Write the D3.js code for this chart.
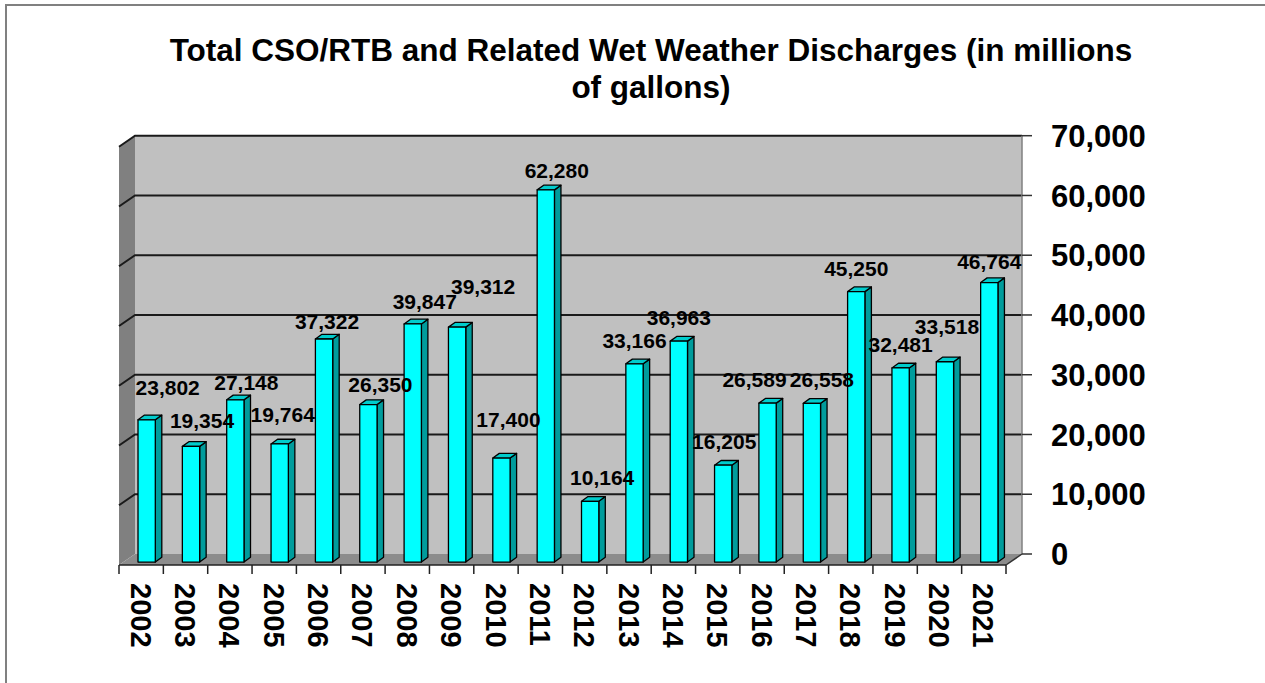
<!DOCTYPE html>
<html>
<head>
<meta charset="utf-8">
<script src="https://cdn.jsdelivr.net/npm/d3@7"></script>
<style>
  body { margin: 0; background: #fff; }
  text { font-family: Arial, "Liberation Sans", sans-serif; font-weight: bold; fill: #000; }
</style>
</head>
<body>
<svg id="chart" width="1265" height="683"></svg>
<script>
// data
const years = ["2002", "2003", "2004", "2005", "2006", "2007", "2008", "2009", "2010", "2011",
  "2012", "2013", "2014", "2015", "2016", "2017", "2018", "2019", "2020", "2021"];
const discharges = [23802, 19354, 27148, 19764, 37322, 26350, 39847, 39312, 17400, 62280,
  10164, 33166, 36963, 16205, 26589, 26558, 45250, 32481, 33518, 46764];
const yTicks = [0, 10000, 20000, 30000, 40000, 50000, 60000, 70000];
const titleLines = ["Total CSO/RTB and Related Wet Weather Discharges (in millions", "of gallons)"];

// label nudges (layout only) -- the original labels sit a bit off their bars
const labelNudge = [[21, -9], [11, -2], [11, 6], [3, -6], [3, 6], [12, 3], [12, 1], [26, -17], [7, -15], [11, 4],
  [12, 0], [0, 0], [0, 0], [1, 0], [-13, 0], [10, 0], [0, 0], [0, 0], [2, -12], [0, 2]];

const svg = d3.select("#chart");
const fmt = d3.format(",");

// depth offset from front plane to back wall
const DX = 16, DY = -11;
const x = d3.scaleBand().domain(years).range([119, 1006]).padding(0);
const yBack = d3.scaleLinear().domain([0, 70000]).range([554, 135.7]);
const backL = 119 + DX, backR = 1006 + DX;

// page frame
svg.append("path")
  .attr("d", "M6,683 L6,5 L1265,5")
  .attr("fill", "none").attr("stroke", "#808080").attr("stroke-width", 2);

// title
svg.append("g").selectAll("text")
  .data(titleLines)
  .join("text")
  .attr("x", 651)
  .attr("y", (d, i) => 61 + i * 37)
  .attr("text-anchor", "middle")
  .attr("font-size", 31.5)
  .text(d => d);

// walls
svg.append("rect")
  .attr("x", backL).attr("y", yBack(70000))
  .attr("width", backR - backL).attr("height", yBack(0) - yBack(70000))
  .attr("fill", "#c0c0c0");

svg.append("path")
  .attr("d", `M119,${yBack(70000) - DY} L${backL},${yBack(70000)} L${backL},${yBack(0)} L119,${yBack(0) - DY} Z`)
  .attr("fill", "#808080");

svg.append("path")
  .attr("d", `M119,${yBack(0) - DY} L${backL},${yBack(0)} L${backR},${yBack(0)} L1006,${yBack(0) - DY} Z`)
  .attr("fill", "#8c8c8c");

// gridlines on back wall and side wall
const grid = svg.append("g");
grid.selectAll("path")
  .data(yTicks.filter(d => d > 0))
  .join("path")
  .attr("d", d => `M119,${yBack(d) - DY} L${backL},${yBack(d)} L${backR},${yBack(d)}`)
  .attr("fill", "none").attr("stroke", "#1a1a1a").attr("stroke-width", 2);

// right axis
svg.append("line")
  .attr("x1", backR).attr("x2", backR)
  .attr("y1", yBack(70000)).attr("y2", yBack(0))
  .attr("stroke", "#808080").attr("stroke-width", 1.5);

const rAxis = svg.append("g");
rAxis.selectAll("line")
  .data(yTicks)
  .join("line")
  .attr("x1", backR).attr("x2", backR + 10)
  .attr("y1", d => yBack(d)).attr("y2", d => yBack(d))
  .attr("stroke", "#333").attr("stroke-width", 1.5);
rAxis.selectAll("text")
  .data(yTicks)
  .join("text")
  .attr("x", 1051)
  .attr("y", d => yBack(d))
  .attr("dy", "0.36em")
  .attr("font-size", 31)
  .text(d => fmt(d));

// floor right edge
svg.append("line")
  .attr("x1", 1006).attr("y1", yBack(0) - DY)
  .attr("x2", backR).attr("y2", yBack(0))
  .attr("stroke", "#333").attr("stroke-width", 1.5);

// bars
const depthT = 0.27;              // bar position inside the floor, from front
const barOff = 19, barW = 17.3;
const sDX = 6.5, sDY = -4.7;      // bar side depth
const yBar = v => yBack(v) - DY * (1 - depthT);

const bars = svg.append("g")
  .selectAll("g")
  .data(discharges)
  .join("g")
  .attr("stroke", "#000").attr("stroke-width", 1.3).attr("stroke-linejoin", "round");

bars.append("path") // side
  .attr("fill", "#009c9c")
  .attr("d", (d, i) => {
    const x1 = x(years[i]) + barOff + barW, t = yBar(d), b = yBar(0);
    return `M${x1},${b} L${x1},${t} L${x1 + sDX},${t + sDY} L${x1 + sDX},${b + sDY} Z`;
  });
bars.append("path") // top
  .attr("fill", "#00cccc")
  .attr("d", (d, i) => {
    const x0 = x(years[i]) + barOff, t = yBar(d);
    return `M${x0},${t} L${x0 + sDX},${t + sDY} L${x0 + barW + sDX},${t + sDY} L${x0 + barW},${t} Z`;
  });
bars.append("rect") // front
  .attr("fill", "#00ffff")
  .attr("x", (d, i) => x(years[i]) + barOff)
  .attr("y", d => yBar(d))
  .attr("width", barW)
  .attr("height", d => yBar(0) - yBar(d));

// bottom axis
const bAxis = svg.append("g");
bAxis.append("line")
  .attr("x1", 119).attr("x2", 1006)
  .attr("y1", yBack(0) - DY).attr("y2", yBack(0) - DY)
  .attr("stroke", "#222").attr("stroke-width", 1.5);
bAxis.selectAll("line.tick")
  .data(d3.range(years.length + 1))
  .join("line")
  .attr("class", "tick")
  .attr("x1", i => 119 + i * x.step()).attr("x2", i => 119 + i * x.step())
  .attr("y1", yBack(0) - DY).attr("y2", yBack(0) - DY + 9)
  .attr("stroke", "#222").attr("stroke-width", 1.5);
bAxis.selectAll("text")
  .data(years)
  .join("text")
  .attr("transform", d => `translate(${x(d) + x.bandwidth() / 2},583) rotate(90)`)
  .attr("dy", "0.36em")
  .attr("font-size", 29)
  .text(d => d);

// data labels
svg.append("g")
  .selectAll("text")
  .data(discharges)
  .join("text")
  .attr("x", (d, i) => x(years[i]) + barOff + barW / 2 + labelNudge[i][0])
  .attr("y", (d, i) => yBar(d) - 16 + labelNudge[i][1])
  .attr("text-anchor", "middle")
  .attr("font-size", 21)
  .text(d => fmt(d));
</script>
</body>
</html>
